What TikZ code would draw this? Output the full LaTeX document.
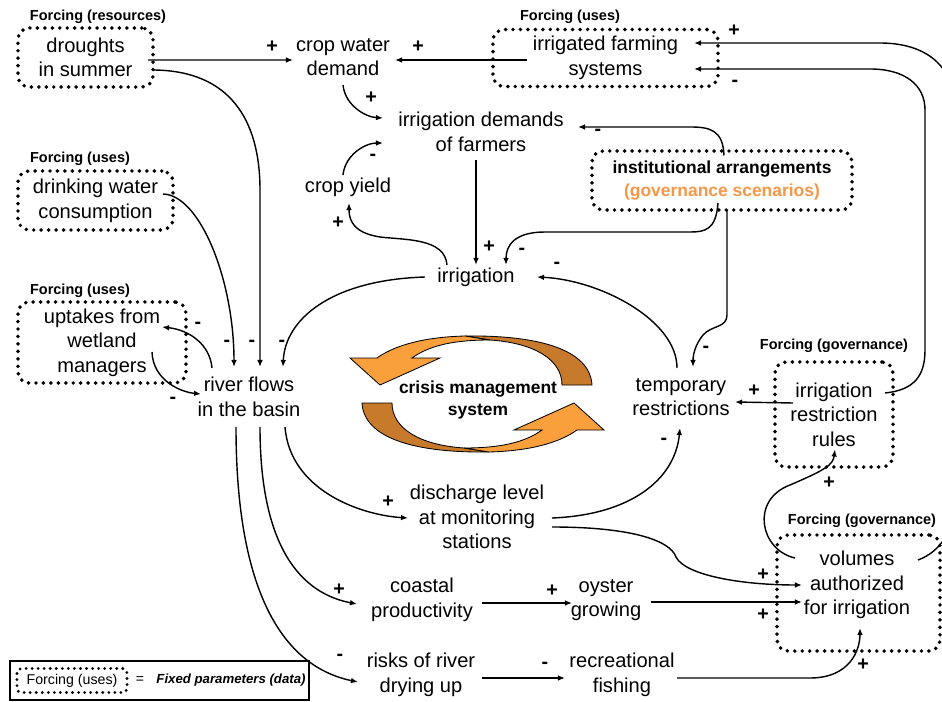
\documentclass[tikz,border=0pt]{standalone}
\usepackage{fontspec}
\setmainfont{Liberation Sans}
\usetikzlibrary{arrows.meta,calc}
\definecolor{govorange}{RGB}{247,150,70}
\definecolor{cyclelight}{RGB}{249,160,60}
\definecolor{cycledark}{RGB}{200,122,44}

\begin{document}
\begin{tikzpicture}[x=0.025cm,y=-0.025cm,line width=1pt,>={Latex[length=5pt,width=4pt]},
		quantity/.style={font=\fontsize{14.3}{17.5}\selectfont,align=center,inner sep=2pt},
		forcing box/.style={quantity,draw,line width=2.8pt,dash pattern=on 0pt off 5.3pt,line cap=round,rounded corners=8pt},
		forcing label/.style={font=\fontsize{10.3}{12}\selectfont\bfseries,inner sep=1pt},
		polarity/.style={font=\fontsize{14}{14}\selectfont\bfseries,inner sep=0pt},
		link/.style={->,line width=1pt}]

	\clip (0,0) rectangle (942,702);

	\node [forcing box,minimum width=3.375cm,minimum height=1.475cm] (force-drought) at (85.5,57.5) {droughts\\in summer};
	\node [forcing label] (label-drought) at (98,17) {Forcing (resources)};
	\node [quantity] (var-cropdemand) at (343,57) {crop water\\demand};
	\node [forcing box,minimum width=5.625cm,minimum height=1.425cm] (force-farming) at (605.5,58) {irrigated farming\\systems};
	\node [forcing label] (label-farming) at (570,17) {Forcing (uses)};
	\node [quantity] (var-irrdemand) at (481,132) {irrigation demands\\of farmers};
	\node [forcing box,font=\fontsize{12.4}{16}\selectfont\bfseries,minimum width=6.5cm,minimum height=1.475cm] (force-inst) at (722,180.5) {institutional arrangements\\\textcolor{govorange}{(governance scenarios)}};
	\node [quantity] (var-yield) at (348,187) {crop yield};
	\node [forcing box,minimum width=3.875cm,minimum height=1.475cm] (force-drinking) at (95.5,200.5) {drinking water\\consumption};
	\node [forcing label] (label-drinking) at (80,159) {Forcing (uses)};
	\node [quantity] (var-irrigation) at (476,277) {irrigation};
	\node [forcing box,minimum width=4.2cm,minimum height=2.025cm] (force-wetland) at (102,342.5) {uptakes from\\wetland\\managers};
	\node [forcing label] (label-wetland) at (80,291) {Forcing (uses)};
	\node [quantity] (var-riverflow) at (249,397) {river flows\\in the basin};
	\node [quantity] (var-restrictions) at (681,397) {temporary\\restrictions};
	\node [forcing box,minimum width=2.95cm,minimum height=2.625cm] (force-rules) at (834,414.5) {irrigation\\restriction\\rules};
	\node [forcing label] (label-rules) at (834,346) {Forcing (governance)};
	\node [quantity] (var-discharge) at (477,517) {discharge level\\at monitoring\\stations};
	\node [quantity] (var-coastal) at (422,600) {coastal\\productivity};
	\node [quantity] (var-oyster) at (606,600) {oyster\\growing};
	\node [forcing box,minimum width=4.075cm,minimum height=2.9cm] (force-volumes) at (858.5,593) {};
	\node [quantity] (var-volumes) at (857,585) {volumes\\authorized\\for irrigation};
	\node [forcing label] (label-volumes) at (862,521) {Forcing (governance)};
	\node [quantity] (var-drying) at (421,675) {risks of river\\drying up};
	\node [quantity] (var-fishing) at (622,675) {recreational\\fishing};

	\foreach \a in {0,180}
	{
		\begin{scope}[rotate around={\a:(477,394)},line width=0.6pt]
			\filldraw [fill=cycledark] (592,385) .. controls (590,350) and (540,335) .. (465,336) -- (490,340) .. controls (535,343) and (562,360) .. (562,385) -- cycle;
			\filldraw [fill=cyclelight] (465,336) .. controls (425,337) and (395,345) .. (377,358) -- (350,358) -- (380,385) -- (440,358) -- (412,358) .. controls (430,345) and (455,340) .. (490,340) -- cycle;
		\end{scope}
	}
	\node [font=\fontsize{12.4}{15.5}\selectfont\bfseries,align=center] (cycle-text) at (478,400) {crisis management\\system};

	\draw [link] ($(force-drought)+(62.5,2.5)$) -- ($(var-cropdemand)+(-50,3)$);
	\draw [link] ($(force-drought)+(66.5,12.5)$) .. controls (230,70) and (260,120) .. (260,190) -- ($(var-riverflow)+(11,-30)$);
	\draw [link] ($(force-farming)+(-78.5,2)$) -- ($(var-cropdemand)+(52,3)$);
	\draw [link] ($(var-cropdemand)+(0,28)$) .. controls (345,105) and (365,117) .. ($(var-irrdemand)+(-98,-14)$);
	\draw [link] ($(var-yield)+(-5,-12)$) .. controls (345,155) and (365,143) .. ($(var-irrdemand)+(-98,11)$);
	\draw [link] ($(var-irrigation)+(-29,-12)$) .. controls (445,238) and (405,240) .. (380,237) .. controls (355,233) and (349,222) .. ($(var-yield)+(1,16)$);
	\draw [link] ($(var-irrdemand)+(-5,28)$) -- ($(var-irrigation)+(0,-12)$);
	\draw [link] ($(force-inst)+(2,-25)$) .. controls (723,130) and (710,127) .. (690,127) -- ($(var-irrdemand)+(97,-5)$);
	\draw [link] ($(force-inst)+(-4,22.5)$) .. controls (716,230) and (705,232) .. (690,232) -- (545,232) .. controls (515,232) and (506,245) .. ($(var-irrigation)+(30,-12)$);
	\draw [link] ($(force-inst)+(5,29.5)$) -- (727,315) .. controls (727,328) and (712,325) .. (703,335) .. controls (695,345) and (693,355) .. ($(var-restrictions)+(12,-30)$);
	\draw [link] ($(var-restrictions)+(-4,-29)$) .. controls (677,320) and (600,280) .. ($(var-irrigation)+(61,0)$);
	\draw [link] ($(var-irrigation)+(-51,0)$) .. controls (330,280) and (285,320) .. ($(var-riverflow)+(34,-30)$);
	\draw [link] ($(force-drinking)+(67.5,-6.5)$) .. controls (200,195) and (234,280) .. ($(var-riverflow)+(-15,-30)$);
	\draw [link] ($(var-riverflow)+(-37,-29)$) .. controls (210,345) and (190,330) .. ($(force-wetland)+(60,-15.5)$);
	\draw [link] ($(force-wetland)+(50,9.5)$) .. controls (153,380) and (180,392) .. ($(var-riverflow)+(-48,-3)$);
	\draw [link] ($(var-riverflow)+(36,30)$) .. controls (290,490) and (360,515) .. ($(var-discharge)+(-69,1)$);
	\draw [link] ($(var-riverflow)+(11,30)$) .. controls (260,560) and (310,595) .. ($(var-coastal)+(-65,4)$);
	\draw [link] ($(var-riverflow)+(-13,30)$) .. controls (236,620) and (300,670) .. ($(var-drying)+(-63,7)$);
	\draw [link] ($(var-coastal)+(60,3)$) -- ($(var-oyster)+(-34,3)$);
	\draw [link] ($(var-drying)+(61,3)$) -- ($(var-fishing)+(-57,3)$);
	\draw [link] ($(var-discharge)+(75,1)$) .. controls (630,515) and (675,480) .. ($(var-restrictions)+(-1,31)$);
	\draw [link] ($(var-discharge)+(75,10)$) .. controls (630,527) and (670,540) .. (676,557) .. controls (685,575) and (740,585) .. ($(var-volumes)+(-55,0)$);
	\draw [link] ($(var-oyster)+(45,2)$) -- ($(var-volumes)+(-55,17)$);
	\draw [link] ($(var-fishing)+(55,3)$) -- (810,678) .. controls (850,678) and (860,650) .. ($(var-volumes)+(3,43)$);
	\draw [link] ($(var-volumes)+(-62,-27)$) .. controls (760,550) and (750,500) .. (790,485) .. controls (825,470) and (833,465) .. ($(force-rules)+(1,35)$);
	\draw [link] ($(var-volumes)+(61,-25)$) .. controls (940,552) and (955,530) .. (955,500) -- (955,110) .. controls (955,65) and (925,43) .. (880,43) -- ($(force-farming)+(88.5,-15)$);
	\draw [link] ($(force-rules)+(51,-21.5)$) .. controls (915,390) and (925,375) .. (925,350) -- (925,110) .. controls (925,85) and (905,69) .. (870,69) -- ($(force-farming)+(88.5,11)$);
	\draw [link] ($(force-rules)+(-41,-11.5)$) -- ($(var-restrictions)+(54,5)$);

	\foreach \x/\y/\s [count=\i] in {272/47/+,418/47/+,371/98/+,373/157/-,338/223/+,489/247/+,598/132/-,522/251/-,557/265/-,706/349/-,754/391/+,664/441/-,829/483/+,198/325/-,227/343/-,252/343/-,282/343/-,173/400/-,388/502/+,339/590/+,340/657/-,552/591/+,545/665/-,763/575/+,763/615/+,863/665/+,734/31/+,735/83/-}
		\node [polarity] (sign-\i) at (\x,\y) {\s};

	\node [draw,line width=0.8pt,minimum width=7.475cm,minimum height=0.975cm,inner sep=0pt] (legend) at (159.5,680.5) {};
	\node [draw,line width=2.2pt,dash pattern=on 0pt off 4.3pt,line cap=round,rounded corners=3pt,font=\fontsize{10.1}{12}\selectfont,minimum width=2.75cm,minimum height=0.6cm] (legend-box) at (72,680.5) {Forcing (uses)};
	\node [font=\fontsize{10}{12}\selectfont] (legend-eq) at (140,680) {=};
	\node [font=\fontsize{9.4}{12}\selectfont\bfseries\itshape] (legend-text) at (231,680) {Fixed parameters (data)};
\end{tikzpicture}
\end{document}
